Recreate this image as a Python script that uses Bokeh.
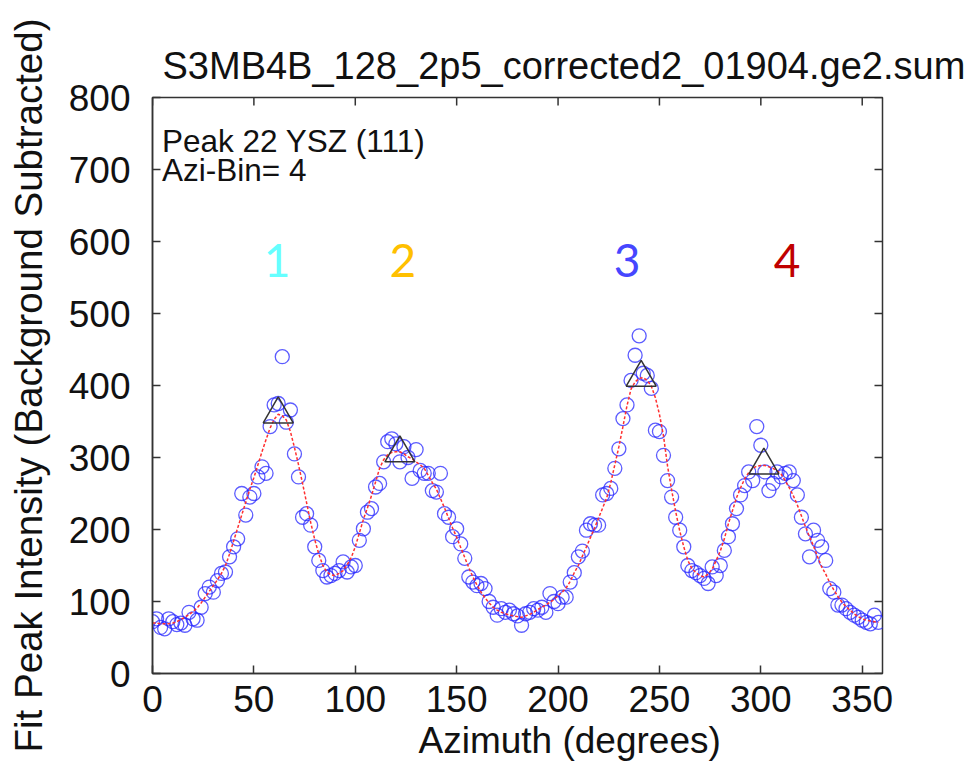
import math
from bokeh.plotting import figure
from bokeh.models import Label, FixedTicker, Range1d, Title
from bokeh.embed import file_html
from bokeh.resources import INLINE

TITLE = "S3MB4B_128_2p5_corrected2_01904.ge2.sum"
X_LABEL = "Azimuth (degrees)"
Y_LABEL = "Fit Peak Intensity (Background Subtracted)"
x_ticks = [0, 50, 100, 150, 200, 250, 300, 350]
y_ticks = [0, 100, 200, 300, 400, 500, 600, 700, 800]

# azimuth bins (degrees)
azimuth = list(range(0, 360, 2))

# measured fit peak intensity (circles)
intensity = [
    72, 76, 64, 62, 76, 72, 68, 70, 67, 85,
    76, 74, 92, 111, 120, 113, 129, 139, 141, 162,
    176, 187, 250, 220, 245, 250, 273, 287, 278, 343,
    373, 375, 440, 349, 366, 305, 273, 217, 222, 206,
    176, 157, 143, 134, 136, 139, 143, 155, 141, 148,
    150, 185, 201, 224, 229, 259, 264, 294, 322, 326,
    319, 294, 315, 300, 271, 311, 282, 278, 278, 254,
    252, 278, 222, 217, 190, 201, 180, 160, 134, 127,
    122, 125, 118, 100, 92, 81, 90, 85, 88, 83,
    80, 67, 83, 85, 90, 88, 92, 85, 111, 100,
    97, 106, 106, 127, 140, 162, 170, 199, 208, 206,
    206, 248, 250, 257, 285, 312, 354, 373, 407, 442,
    469, 417, 414, 396, 338, 336, 303, 268, 245, 217,
    199, 176, 150, 143, 140, 136, 132, 125, 148, 136,
    150, 171, 190, 208, 229, 248, 261, 280, 268, 343,
    317, 280, 254, 264, 280, 273, 278, 280, 268, 248,
    217, 194, 162, 199, 185, 176, 157, 118, 113, 95,
    95, 90, 85, 81, 78, 74, 71, 69, 81, 71,
]

# fitted curve (red dashed)
fit = [
    70, 70, 69, 69, 69, 70, 72, 75, 78, 82,
    86, 91, 98, 106, 114, 122, 130, 139, 150, 166,
    184, 202, 220, 238, 256, 272, 290, 308, 325, 341,
    353, 360, 358, 352, 336, 314, 290, 264, 237, 210,
    186, 166, 150, 141, 137, 136, 139, 143, 151, 161,
    176, 195, 214, 230, 247, 266, 285, 297, 304, 307,
    308, 308, 305, 301, 298, 294, 290, 285, 275, 265,
    256, 243, 230, 216, 202, 189, 175, 161, 147, 134,
    123, 113, 105, 98, 92, 88, 85, 83, 81, 80,
    79, 78, 80, 82, 85, 89, 92, 95, 99, 103,
    108, 113, 119, 128, 140, 150, 163, 176, 189, 202,
    216, 230, 244, 265, 290, 315, 343, 372, 395, 405,
    410, 411, 407, 399, 383, 360, 330, 288, 255, 225,
    198, 176, 157, 146, 140, 136, 134, 138, 145, 157,
    170, 187, 208, 226, 244, 258, 270, 279, 285, 288,
    289, 289, 287, 285, 282, 277, 268, 258, 247, 234,
    219, 204, 190, 177, 162, 148, 138, 126, 116, 107,
    99, 93, 88, 83, 79, 76, 74, 73, 72, 71,
]

# fitted peak positions (triangles)
peak_az = [62, 122, 241, 301.5]
peak_int = [360, 306, 411, 289]

# peak number labels
peak_names = ["1", "2", "3", "4"]
peak_name_x = [61.5, 123.5, 234, 313]
peak_name_colors = ["#66ffff", "#ffc000", "#4646ff", "#c00000"]

info_lines = ["Peak 22 YSZ (111)", "Azi-Bin= 4"]

X_MIN, X_MAX = 0, 360
Y_MIN, Y_MAX = 0, 800

FONT = "Liberation Sans"
AX = "#333333"
TXT = "#111111"

p = figure(width=974, height=773, x_range=Range1d(X_MIN, X_MAX), y_range=Range1d(Y_MIN, Y_MAX),
           output_backend="svg", toolbar_location=None,
           min_border_left=152, min_border_right=92, min_border_top=97, min_border_bottom=100,
           title=TITLE)
p.grid.visible = False
p.outline_line_color = AX
p.outline_line_width = 1.5
p.background_fill_color = "white"
p.border_fill_color = "white"

p.title.text_font = FONT
p.title.text_font_size = "38px"
p.title.text_font_style = "normal"
p.title.text_color = TXT
p.title.align = "left"
p.title.offset = 10
p.title.standoff = 21

for ax, ticks in ((p.xaxis[0], x_ticks), (p.yaxis[0], y_ticks)):
    ax.ticker = FixedTicker(ticks=ticks)
    ax.axis_line_color = AX
    ax.axis_line_width = 1.5
    ax.major_tick_line_color = AX
    ax.major_tick_line_width = 1.5
    ax.major_tick_in = 8
    ax.major_tick_out = 0
    ax.minor_tick_line_color = None
    ax.major_label_text_font = FONT
    ax.major_label_text_color = TXT
    ax.major_label_text_font_size = "37px"
p.xaxis[0].major_label_standoff = 12
p.yaxis[0].major_label_standoff = 22

p.yaxis.axis_label = Y_LABEL
p.yaxis[0].axis_label_text_font = FONT
p.yaxis[0].axis_label_text_font_size = "38.5px"
p.yaxis[0].axis_label_text_font_style = "normal"
p.yaxis[0].axis_label_text_color = TXT
p.yaxis[0].axis_label_standoff = 16

# x axis title: placed as in the reference (right of the frame centre)
p.add_layout(Title(text=X_LABEL, text_font=FONT, text_font_size="37px",
                   text_font_style="normal", text_color=TXT, align="left",
                   offset=266, standoff=7), "below")

# mirrored inward ticks on top and right edges of the box
p.ray(x=x_ticks, y=[Y_MAX] * len(x_ticks), length=8, length_units="screen",
      angle=-math.pi / 2, line_color=AX, line_width=1.5)
p.ray(x=[X_MAX] * len(y_ticks), y=y_ticks, length=8, length_units="screen",
      angle=math.pi, line_color=AX, line_width=1.5)

p.scatter(azimuth, intensity, marker="circle", size=14, fill_color=None,
          line_color="#2626ff", line_alpha=0.75, line_width=1.3)
p.line(azimuth, fit, line_color="#ff3030", line_dash="3 2", line_width=1.5)
p.scatter(peak_az, peak_int, marker="triangle", size=30, fill_color=None,
          line_color="#333333", line_width=1.5)

for i, t in enumerate(info_lines):
    p.add_layout(Label(x=4.7, y=739 - 40 * i, text=t, text_font=FONT, text_font_size="31.5px",
                       text_color=TXT, text_baseline="alphabetic", text_align="left"))

for name, x, c in zip(peak_names, peak_name_x, peak_name_colors):
    p.add_layout(Label(x=x, y=574, text=name, text_font="Lato", text_font_size="46px",
                       text_color=c, text_baseline="middle", text_align="center"))

open("out.html", "w").write(file_html(p, INLINE))
